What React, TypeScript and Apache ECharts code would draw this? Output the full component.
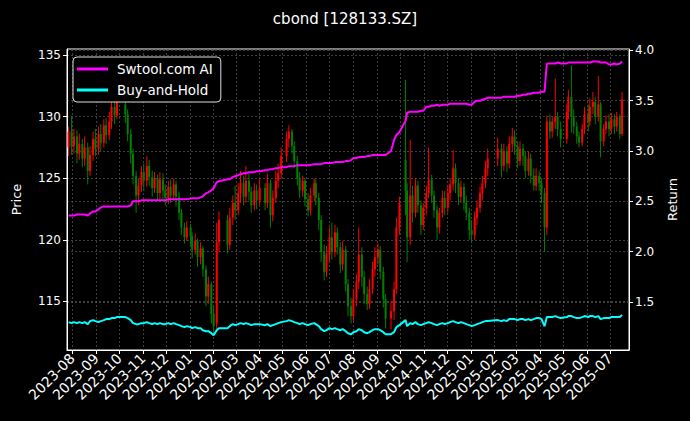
import React, { useEffect, useRef } from "react";
import * as echarts from "echarts";

const FONT = "DejaVu Sans";

const dates: string[] = [
  "2023-07-27","2023-07-31","2023-08-03","2023-08-07","2023-08-10","2023-08-14","2023-08-17","2023-08-21","2023-08-24","2023-08-28","2023-08-31",
  "2023-09-04","2023-09-07","2023-09-11","2023-09-14","2023-09-18","2023-09-21","2023-09-25","2023-09-28",
  "2023-10-09","2023-10-12","2023-10-16","2023-10-19","2023-10-23","2023-10-26","2023-10-30",
  "2023-11-02","2023-11-06","2023-11-09","2023-11-13","2023-11-16","2023-11-20","2023-11-23","2023-11-27","2023-11-30",
  "2023-12-04","2023-12-07","2023-12-11","2023-12-14","2023-12-18","2023-12-21","2023-12-25","2023-12-28",
  "2024-01-02","2024-01-04","2024-01-08","2024-01-11","2024-01-15","2024-01-18","2024-01-22","2024-01-25","2024-01-29",
  "2024-02-01","2024-02-05","2024-02-08","2024-02-19","2024-02-22","2024-02-26","2024-02-29",
  "2024-03-04","2024-03-07","2024-03-11","2024-03-14","2024-03-18","2024-03-21","2024-03-25","2024-03-28",
  "2024-04-01","2024-04-08","2024-04-11","2024-04-15","2024-04-18","2024-04-22","2024-04-25","2024-04-29",
  "2024-05-06","2024-05-09","2024-05-13","2024-05-16","2024-05-20","2024-05-23","2024-05-27","2024-05-30",
  "2024-06-03","2024-06-06","2024-06-11","2024-06-13","2024-06-17","2024-06-20","2024-06-24","2024-06-27",
  "2024-07-01","2024-07-04","2024-07-08","2024-07-11","2024-07-15","2024-07-18","2024-07-22","2024-07-25","2024-07-29",
  "2024-08-01","2024-08-05","2024-08-08","2024-08-12","2024-08-15","2024-08-19","2024-08-22","2024-08-26","2024-08-29",
  "2024-09-02","2024-09-05","2024-09-09","2024-09-12","2024-09-19","2024-09-23","2024-09-26","2024-09-30",
  "2024-10-08","2024-10-10","2024-10-14","2024-10-17","2024-10-21","2024-10-24","2024-10-28","2024-10-31",
  "2024-11-04","2024-11-07","2024-11-11","2024-11-14","2024-11-18","2024-11-21","2024-11-25","2024-11-28",
  "2024-12-02","2024-12-05","2024-12-09","2024-12-12","2024-12-16","2024-12-19","2024-12-23","2024-12-26","2024-12-30",
  "2025-01-02","2025-01-06","2025-01-09","2025-01-13","2025-01-16","2025-01-20","2025-01-23",
  "2025-02-05","2025-02-10","2025-02-13","2025-02-17","2025-02-20","2025-02-24","2025-02-27",
  "2025-03-03","2025-03-06","2025-03-10","2025-03-13","2025-03-17","2025-03-20","2025-03-24","2025-03-27","2025-03-31",
  "2025-04-03","2025-04-07","2025-04-10","2025-04-14","2025-04-17","2025-04-21","2025-04-24","2025-04-28",
  "2025-05-06","2025-05-08","2025-05-12","2025-05-15","2025-05-19","2025-05-22","2025-05-26","2025-05-29",
  "2025-06-03","2025-06-05","2025-06-09","2025-06-12","2025-06-16","2025-06-19","2025-06-23","2025-06-26","2025-06-30",
  "2025-07-03","2025-07-07","2025-07-10","2025-07-14","2025-07-17",
];

// [open, close, low, high]
const ohlc: number[][] = [
  [127.5,128.8,126.8,129.2],[128.8,127.6,126.9,130.0],[127.6,128.4,127.0,129.0],[128.4,127.0,126.2,128.9],[127.0,127.8,126.5,128.6],
  [127.8,126.6,125.9,128.2],[126.6,127.5,126.0,128.4],[127.5,125.6,124.5,127.9],[125.6,126.9,125.2,127.6],[126.9,128.2,126.4,128.8],
  [128.2,127.4,126.8,129.0],
  [127.4,128.6,126.9,129.2],[128.6,127.9,127.2,129.4],[127.9,129.3,127.5,129.8],[129.3,128.5,127.8,129.9],[128.5,129.6,128.1,130.4],
  [129.6,130.8,129.0,131.6],[130.8,130.1,129.4,131.2],[130.1,131.2,129.8,132.0],
  [131.0,130.2,129.5,131.5],[130.2,128.6,128.0,130.6],[128.6,127.0,126.2,129.0],[127.0,125.2,124.5,127.4],[125.2,123.6,122.2,125.6],
  [123.6,124.4,122.8,125.0],[124.4,125.5,123.9,126.0],
  [125.5,124.8,124.0,126.2],[124.8,126.0,124.3,126.8],[126.0,125.1,124.4,126.5],[125.1,124.2,123.5,125.6],[124.2,125.0,123.8,125.5],
  [125.0,123.8,123.2,125.3],[123.8,124.9,123.3,125.5],[124.9,124.0,123.2,125.4],[124.0,123.4,122.8,124.5],
  [123.4,124.3,122.9,124.8],[124.3,123.6,123.0,124.9],[123.6,124.5,123.2,125.0],[124.5,123.5,122.7,124.8],[123.5,122.2,121.6,123.9],
  [122.2,121.0,120.4,122.5],[121.0,120.2,119.7,121.4],[120.2,121.0,119.9,121.5],
  [121.0,120.3,119.6,121.3],[120.3,119.2,118.5,120.6],[119.2,119.9,118.8,120.5],[119.9,118.6,117.8,120.1],[118.6,119.3,118.0,119.8],
  [119.3,117.6,117.0,119.5],[117.6,115.4,114.6,117.9],[115.4,116.4,114.8,117.0],[116.4,114.0,113.2,116.6],
  [114.0,113.0,112.4,114.6],[113.2,119.8,112.5,121.4],[119.8,121.6,119.0,122.3],[121.6,119.6,118.9,122.0],[119.6,121.8,119.2,122.6],
  [121.8,123.0,121.2,123.6],[123.0,122.4,121.6,124.4],
  [122.4,123.8,122.0,124.6],[123.8,124.6,123.0,125.6],[124.6,123.5,122.8,125.2],[123.5,124.8,123.0,126.0],[124.8,123.9,123.2,125.4],
  [123.9,122.8,122.2,124.3],[122.8,124.0,122.4,124.6],[124.0,123.2,122.5,124.5],
  [123.2,124.2,122.8,125.0],[124.2,123.0,122.4,124.6],[123.0,124.6,122.6,125.4],[124.6,122.0,121.0,124.9],[122.0,123.4,121.5,124.0],
  [123.4,124.8,123.0,125.6],[124.8,125.4,124.2,126.2],[125.4,126.8,125.0,127.5],
  [126.8,128.2,126.3,128.8],[128.2,128.8,127.5,129.3],[128.8,127.6,127.0,129.0],[127.6,126.4,125.8,128.0],[126.4,125.0,124.4,126.8],
  [125.0,124.0,123.4,125.5],[124.0,124.8,123.5,125.2],[124.8,123.3,122.7,125.0],
  [123.3,122.4,121.9,123.8],[122.4,123.6,122.0,124.2],[123.6,124.6,123.1,125.0],[124.6,123.4,122.8,124.9],[123.4,121.6,120.8,123.8],
  [121.6,119.0,118.2,122.0],[119.0,117.4,116.7,119.6],[117.4,118.8,117.0,119.5],
  [118.8,120.2,118.2,121.0],[120.2,119.0,118.4,121.4],[119.0,120.6,118.6,121.2],[120.6,119.4,118.8,121.0],[119.4,118.0,117.3,119.8],
  [118.0,119.2,117.5,119.9],[119.2,116.4,115.8,119.5],[116.4,114.6,113.8,116.8],[114.6,113.8,113.2,115.3],
  [113.8,115.2,113.4,116.0],[115.2,116.6,114.6,117.2],[116.6,118.8,116.0,121.0],[118.8,117.0,116.2,119.4],[117.0,115.6,114.8,117.5],
  [115.6,114.8,114.3,116.2],[114.8,116.0,114.4,116.8],[116.0,117.6,115.6,118.2],[117.6,118.6,117.0,119.4],
  [118.6,119.2,118.0,119.7],[119.2,117.4,116.8,119.5],[117.4,115.2,114.5,117.8],[115.2,113.6,112.8,115.6],[113.6,114.2,112.7,115.0],
  [114.2,116.0,113.5,116.6],[116.0,121.0,115.6,121.8],[121.0,123.0,120.4,123.5],
  [126.5,124.0,122.0,133.0],[124.0,120.2,118.2,124.6],[120.2,123.6,119.6,128.1],[123.6,122.2,121.4,124.4],[122.2,124.4,121.8,125.0],
  [124.4,122.8,122.2,124.8],[122.8,121.2,120.4,123.2],[121.2,122.6,120.8,123.0],
  [122.6,123.8,122.0,124.4],[123.8,124.9,123.4,127.5],[124.9,123.6,123.0,125.3],[123.6,122.4,121.8,124.0],[122.4,121.0,120.0,122.8],
  [121.0,122.2,120.5,122.6],[122.2,123.4,121.8,124.0],[123.4,122.6,122.0,124.0],
  [122.6,123.8,122.2,124.4],[123.8,124.5,123.2,125.0],[124.5,125.8,124.0,127.3],[125.8,124.6,123.8,126.2],[124.6,123.5,122.8,125.0],
  [123.5,124.3,123.0,124.8],[124.3,123.0,122.4,124.6],[123.0,122.2,121.6,123.6],[122.2,120.8,120.0,122.6],
  [120.8,120.4,119.8,121.6],[120.4,121.8,120.0,122.3],[121.8,122.6,121.2,123.2],[122.6,123.8,122.2,124.3],[123.8,124.6,123.2,125.2],
  [124.6,125.8,124.2,126.4],[125.8,126.6,125.2,127.4],
  [126.6,127.4,126.0,128.3],[127.4,126.0,125.1,127.8],[126.0,127.2,125.6,127.8],[127.2,126.2,125.5,127.6],[126.2,127.8,125.8,128.4],
  [127.8,128.4,127.2,129.1],[128.4,127.6,126.9,128.9],
  [127.6,126.4,125.8,128.0],[126.4,127.4,126.0,128.0],[127.4,126.8,126.0,127.8],[126.8,125.6,125.0,127.2],[125.6,126.6,125.2,127.2],
  [126.6,125.2,124.6,127.0],[125.2,124.4,124.0,125.8],[124.4,125.2,124.0,125.8],[125.2,124.6,124.0,125.6],
  [124.6,123.8,123.0,125.0],[123.8,121.0,119.0,124.2],[121.0,129.6,120.4,130.1],[129.6,128.8,128.2,130.2],[128.8,129.6,128.3,130.0],
  [129.6,130.0,129.0,133.1],[130.0,129.0,128.4,130.4],[129.0,128.2,127.5,129.6],
  [128.2,130.4,127.8,131.0],[130.4,131.6,129.8,132.2],[131.6,130.0,128.7,134.2],[130.0,129.2,128.6,130.6],[129.2,128.4,127.8,129.6],
  [128.4,127.9,127.5,128.8],[127.9,129.0,127.6,129.4],[129.0,130.2,128.6,130.8],
  [130.2,129.6,128.8,131.0],[129.6,130.8,129.2,131.5],[130.8,131.2,130.2,132.0],[131.2,130.0,129.4,131.6],[130.0,131.0,129.6,133.3],
  [131.0,128.0,126.7,131.2],[128.0,129.0,127.6,129.4],[129.0,129.6,128.6,130.1],[129.6,129.0,128.4,130.2],
  [129.0,129.8,128.6,130.3],[129.8,129.2,128.6,130.2],[129.2,130.0,128.8,130.4],[130.0,128.6,128.2,130.2],[128.6,131.4,128.4,132.0],
];

const aiReturn: number[] = [
  2.36,2.36,2.36,2.37,2.37,2.37,2.37,2.36,2.38,2.40,2.40,
  2.42,2.44,2.45,2.45,2.45,2.45,2.45,2.45,
  2.45,2.45,2.46,2.50,2.50,2.50,2.51,
  2.51,2.51,2.51,2.51,2.51,2.51,2.51,2.51,2.51,
  2.52,2.52,2.52,2.52,2.52,2.52,2.52,2.52,
  2.53,2.53,2.53,2.53,2.54,2.55,2.58,2.59,2.61,
  2.63,2.69,2.70,2.72,2.72,2.74,2.75,
  2.76,2.77,2.78,2.78,2.79,2.79,2.79,2.80,
  2.80,2.81,2.81,2.82,2.82,2.83,2.83,2.84,
  2.84,2.85,2.85,2.85,2.86,2.86,2.86,2.86,
  2.86,2.86,2.87,2.87,2.87,2.87,2.88,2.88,
  2.88,2.88,2.89,2.89,2.89,2.89,2.90,2.90,2.91,
  2.93,2.93,2.94,2.94,2.94,2.95,2.95,2.96,2.96,
  2.96,2.96,2.96,2.96,3.00,3.11,3.16,3.19,
  3.30,3.38,3.39,3.39,3.39,3.39,3.40,3.40,
  3.44,3.44,3.45,3.45,3.46,3.45,3.46,3.46,
  3.46,3.47,3.47,3.47,3.47,3.47,3.47,3.47,3.46,
  3.46,3.49,3.50,3.50,3.51,3.52,3.53,
  3.53,3.53,3.54,3.54,3.54,3.54,3.54,
  3.55,3.55,3.56,3.56,3.57,3.57,3.58,3.58,3.58,
  3.59,3.59,3.87,3.87,3.87,3.87,3.88,3.87,
  3.87,3.88,3.88,3.88,3.88,3.88,3.88,3.88,
  3.88,3.88,3.89,3.89,3.89,3.88,3.88,3.88,3.86,
  3.86,3.87,3.86,3.87,3.89,
];

const bhReturn: number[] = [
  1.30,1.29,1.30,1.29,1.30,1.29,1.30,1.28,1.31,1.32,1.31,
  1.30,1.31,1.32,1.33,1.33,1.34,1.34,1.35,
  1.35,1.34,1.32,1.29,1.28,1.28,1.29,
  1.29,1.30,1.29,1.28,1.29,1.28,1.29,1.28,1.28,
  1.29,1.28,1.29,1.28,1.27,1.26,1.25,1.26,
  1.25,1.24,1.25,1.24,1.24,1.22,1.21,1.21,1.19,
  1.17,1.22,1.24,1.24,1.26,1.28,1.27,
  1.28,1.29,1.28,1.29,1.28,1.27,1.28,1.28,
  1.28,1.27,1.28,1.26,1.27,1.28,1.29,1.30,
  1.31,1.32,1.31,1.30,1.29,1.28,1.29,1.28,
  1.27,1.28,1.29,1.28,1.26,1.23,1.21,1.22,
  1.24,1.23,1.24,1.23,1.22,1.23,1.21,1.19,1.18,
  1.20,1.21,1.23,1.22,1.20,1.19,1.20,1.22,1.23,
  1.23,1.22,1.20,1.18,1.18,1.20,1.25,1.27,
  1.32,1.26,1.29,1.28,1.30,1.28,1.27,1.28,
  1.29,1.30,1.29,1.28,1.27,1.28,1.29,1.28,
  1.29,1.30,1.31,1.30,1.29,1.30,1.29,1.28,1.27,
  1.26,1.27,1.28,1.29,1.30,1.31,1.31,
  1.32,1.31,1.32,1.31,1.33,1.33,1.33,
  1.32,1.33,1.33,1.32,1.33,1.32,1.33,1.34,1.34,
  1.33,1.26,1.35,1.35,1.35,1.36,1.35,1.34,
  1.35,1.36,1.36,1.35,1.34,1.34,1.35,1.36,
  1.35,1.36,1.36,1.35,1.36,1.33,1.34,1.34,1.34,
  1.35,1.35,1.35,1.35,1.37,
];

const xMin = "2023-07-25";
const xMax = "2025-07-26";
const DAY = 86400000;

export default function App() {
  const ref = useRef<HTMLDivElement>(null);
  useEffect(() => {
    if (!ref.current) return;
    const chart = echarts.init(ref.current, undefined, { renderer: "svg" });
    const ts = dates.map((d) => +echarts.time.parse(d));
    const candleData = ts.map((t, i) => [t, ohlc[i][0], ohlc[i][1], ohlc[i][2], ohlc[i][3]]);
    const aiData = ts.map((t, i) => [t, aiReturn[i]]);
    const bhData = ts.map((t, i) => [t, bhReturn[i]]);
    const gridLine = { show: true, lineStyle: { color: "#5a5a5a", type: [2, 2] as any, width: 0.7 } };

    const option: any = {
      animation: false,
      backgroundColor: "#000",
      textStyle: { fontFamily: FONT },
      title: {
        text: "cbond [128133.SZ]",
        left: "center",
        top: 6,
        textStyle: { color: "#fff", fontSize: 15, fontWeight: "normal", fontFamily: FONT },
      },
      legend: {
        left: 73,
        top: 57,
        orient: "vertical",
        icon: "rect",
        itemWidth: 31,
        itemHeight: 3,
        itemGap: 7,
        padding: [5, 8, 5, 4],
        borderColor: "#ddd",
        borderWidth: 1,
        borderRadius: 4,
        backgroundColor: "#000",
        textStyle: { color: "#fff", fontSize: 13.5, fontFamily: FONT, padding: [0, 0, 0, 4] },
        data: ["Swtool.com AI", "Buy-and-Hold"],
      },
      grid: {
        left: 67,
        right: 61,
        top: 49,
        bottom: 71,
        show: true,
        borderColor: "#fff",
        borderWidth: 1,
        backgroundColor: "transparent",
        outerBoundsMode: "none",
      },
      xAxis: {
        type: "time",
        min: +echarts.time.parse(xMin),
        max: +echarts.time.parse(xMax),
        splitNumber: 24,
        minInterval: 28 * DAY,
        maxInterval: 31 * DAY,
        axisLine: { show: true, lineStyle: { color: "#fff", width: 1 } },
        axisTick: { show: true, length: 4, lineStyle: { color: "#fff" } },
        axisLabel: {
          rotate: 45,
          color: "#fff",
          fontSize: 14,
          fontFamily: FONT,
          margin: 6,
          hideOverlap: false,
          showMinLabel: false,
          showMaxLabel: false,
          formatter: (v: number) => {
            const d = new Date(v);
            if (d.getDate() !== 1) return "";
            const m = d.getMonth() + 1;
            return d.getFullYear() + "-" + (m < 10 ? "0" + m : "" + m);
          },
        },
        splitLine: gridLine,
      },
      yAxis: [
        {
          type: "value",
          position: "left",
          min: 111.05,
          max: 135.5,
          splitNumber: 5,
          name: "Price",
          nameLocation: "middle",
          nameGap: 44,
          nameTextStyle: { color: "#fff", fontSize: 13, fontFamily: FONT },
          axisLine: { show: true, lineStyle: { color: "#fff" } },
          axisTick: { show: true, length: 4, lineStyle: { color: "#fff" } },
          axisLabel: {
            color: "#fff",
            fontSize: 12,
            fontFamily: FONT,
            margin: 6,
            showMinLabel: false,
            showMaxLabel: false,
            formatter: (v: number) => (Math.abs(v / 5 - Math.round(v / 5)) < 1e-6 ? String(Math.round(v)) : ""),
          },
          splitLine: gridLine,
        },
        {
          type: "value",
          position: "right",
          min: 1.023,
          max: 4.014,
          splitNumber: 6,
          name: "Return",
          nameLocation: "middle",
          nameGap: 37,
          nameTextStyle: { color: "#fff", fontSize: 13, fontFamily: FONT },
          axisLine: { show: true, lineStyle: { color: "#fff" } },
          axisTick: { show: true, length: 4, lineStyle: { color: "#fff" } },
          axisLabel: {
            color: "#fff",
            fontSize: 12,
            fontFamily: FONT,
            margin: 6,
            showMinLabel: false,
            showMaxLabel: false,
            formatter: (v: number) => (Math.abs(v * 2 - Math.round(v * 2)) < 1e-6 ? v.toFixed(1) : ""),
          },
          splitLine: gridLine,
        },
      ],
      series: [
        {
          type: "custom",
          name: "Price",
          xAxisIndex: 0,
          yAxisIndex: 0,
          clip: true,
          z: 1,
          encode: { x: 0, y: [1, 2, 3, 4] },
          data: candleData,
          renderItem: (params: any, api: any) => {
            const t = api.value(0);
            const o = api.value(1);
            const c = api.value(2);
            const l = api.value(3);
            const h = api.value(4);
            const pO = api.coord([t, o]);
            const pC = api.coord([t, c]);
            const pL = api.coord([t, l]);
            const pH = api.coord([t, h]);
            const color = c >= o ? "#ff0000" : "#008000";
            const w = 2;
            return {
              type: "group",
              children: [
                {
                  type: "line",
                  shape: { x1: pL[0], y1: pL[1], x2: pH[0], y2: pH[1] },
                  style: { stroke: color, lineWidth: 1 },
                },
                {
                  type: "rect",
                  shape: {
                    x: pO[0] - w / 2,
                    y: Math.min(pO[1], pC[1]),
                    width: w,
                    height: Math.max(Math.abs(pO[1] - pC[1]), 1),
                  },
                  style: { fill: color },
                },
              ],
            };
          },
        },
        {
          type: "line",
          name: "Swtool.com AI",
          xAxisIndex: 0,
          yAxisIndex: 1,
          data: aiData,
          showSymbol: false,
          symbol: "none",
          z: 3,
          itemStyle: { color: "#ff00ff" },
          lineStyle: { color: "#ff00ff", width: 2 },
        },
        {
          type: "line",
          name: "Buy-and-Hold",
          xAxisIndex: 0,
          yAxisIndex: 1,
          data: bhData,
          showSymbol: false,
          symbol: "none",
          z: 3,
          itemStyle: { color: "#00ffff" },
          lineStyle: { color: "#00ffff", width: 2 },
        },
      ],
    };
    chart.setOption(option);
    return () => chart.dispose();
  }, []);
  return (
    <div
      ref={ref}
      style={{ position: "absolute", left: 0, top: 0, width: 690, height: 421, background: "#000" }}
    />
  );
}
